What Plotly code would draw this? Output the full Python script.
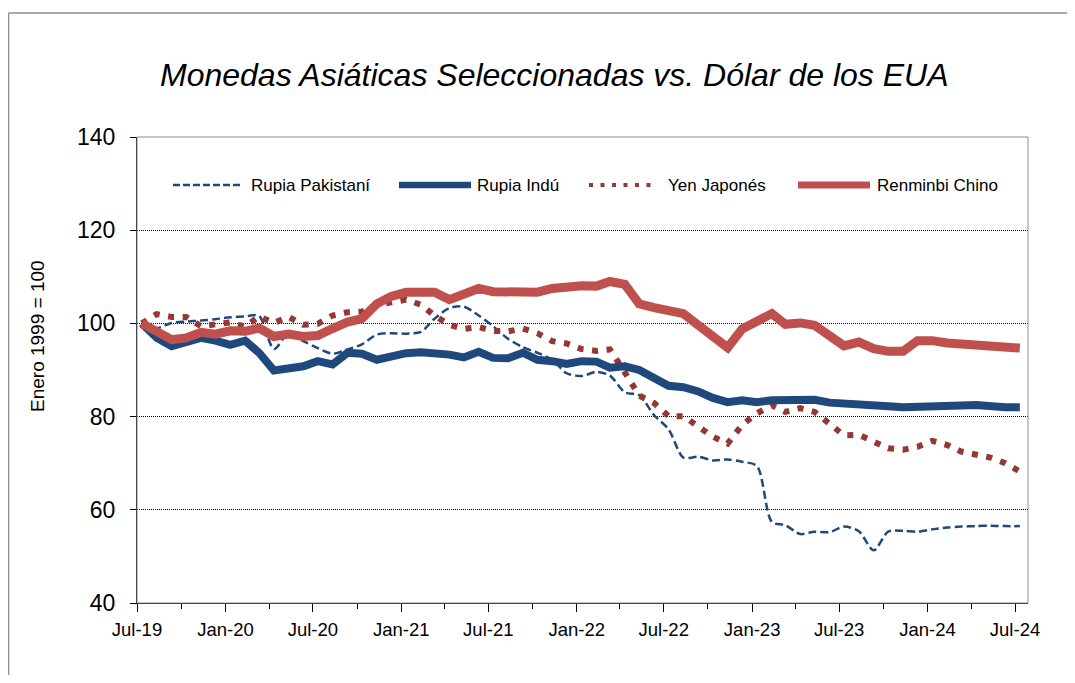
import pandas as pd
import plotly.graph_objects as go

# monthly index, Jul-19 .. Jul-24 (Enero 1999 = 100 rebased to Jul-19)
months = pd.date_range("2019-07-01", periods=61, freq="MS") + pd.Timedelta(days=10)

rupia_pakistani = [100, 99.0, 100.1, 100.4, 100.6, 100.9, 101.3, 101.5, 101.6, 94.5,
                   97.8, 96.2, 94.7, 93.5, 94.4, 95.5, 97.6, 97.9, 97.8, 98.2,
                   101.0, 103.3, 103.6, 101.7, 99.4, 96.7, 94.9, 93.7, 92.2, 89.3,
                   88.7, 89.6, 88.8, 85.2, 84.6, 80.3, 77.3, 71.2, 71.4, 70.6,
                   70.8, 70.3, 69.4, 57.4, 56.7, 54.8, 55.3, 55.2, 56.4, 55.4,
                   51.3, 55.3, 55.5, 55.3, 55.8, 56.2, 56.4, 56.5, 56.6, 56.5, 56.5]
rupia_indu = [100, 96.9, 95.1, 96.2, 96.9, 96.3, 95.4, 96.3, 93.7, 89.9,
              90.5, 90.8, 91.9, 91.2, 93.7, 93.5, 92.2, 92.9, 93.6, 93.8,
              93.7, 93.3, 92.7, 93.9, 92.6, 92.5, 93.7, 92.2, 91.9, 91.3,
              91.9, 91.8, 90.5, 90.8, 90.0, 88.5, 86.6, 86.3, 85.4, 84.0,
              83.1, 83.5, 83.1, 83.5, 83.6, 83.5, 83.6, 83.0, 82.9, 82.7,
              82.3, 82.2, 82.0, 82.0, 82.0, 82.2, 82.4, 82.5, 82.1, 82.0, 82.0]
yen_japones = [100, 102.0, 101.4, 101.4, 99.4, 99.7, 100.2, 99.3, 101.5, 100.1,
               101.4, 99.7, 99.9, 101.7, 102.4, 102.5, 103.9, 104.5, 105.1, 104.0,
               101.7, 99.7, 98.8, 99.2, 98.4, 98.3, 98.9, 97.9, 96.2, 95.7,
               94.5, 94.1, 94.4, 89.5, 84.5, 82.9, 80.1, 80.1, 77.8, 75.7,
               74.2, 78.2, 80.7, 82.4, 81.0, 81.8, 81.0, 78.5, 76.0, 76.1,
               74.8, 73.2, 72.9, 73.5, 74.8, 73.9, 72.5, 71.9, 71.2, 70.0, 68.2]
renminbi_chino = [100, 98.3, 96.5, 96.9, 98.1, 97.7, 98.4, 98.3, 99.0, 97.2,
                  97.7, 97.2, 97.4, 98.9, 100.3, 101.0, 104.2, 105.8, 106.7, 106.7,
                  106.7, 105.1, 106.4, 107.5, 106.8, 106.7, 106.8, 106.7, 107.5, 108.0,
                  108.1, 108.0, 109.0, 108.4, 104.2, 103.4, 102.9, 102.1, 99.6, 97.4,
                  94.8, 98.8, 100.3, 102.1, 99.8, 100.1, 99.6, 97.3, 95.2, 96.0,
                  94.6, 94.0, 94.0, 96.3, 96.3, 95.8, 95.6, 95.3, 95.0, 94.9, 94.7]

nombres = ["Rupia Pakistaní", "Rupia Indú", "Yen Japonés", "Renminbi Chino"]

# page body has an 8px margin, so the figure is shifted by that amount
OFF = 8
W, H = 1075 - 2 * OFF, 683 - 2 * OFF
L, T = 137 - OFF, 137 - OFF
R, B = W - (1028 - OFF), H - (603 - OFF)
PW, PH = W - L - R, H - T - B


def px(x):
    return (x - OFF - L) / PW


def py(y):
    return 1 - (y - OFF - T) / PH


AZUL = "#1F497D"
ROJO = "#C0504D"
GUINDA = "#953735"
FONT = "Liberation Sans, Arial, sans-serif"

fig = go.Figure()
fig.add_trace(go.Scatter(x=months, y=rupia_pakistani, mode="lines", name=nombres[0],
                         line=dict(color=AZUL, width=2.5, dash="8px,4px", shape="spline", smoothing=0.8)))
fig.add_trace(go.Scatter(x=months, y=yen_japones, mode="lines", name=nombres[2],
                         line=dict(color=GUINDA, width=6, dash="6px,8.6px")))
fig.add_trace(go.Scatter(x=months, y=rupia_indu, mode="lines", name=nombres[1],
                         line=dict(color=AZUL, width=8)))
fig.add_trace(go.Scatter(x=months, y=renminbi_chino, mode="lines", name=nombres[3],
                         line=dict(color=ROJO, width=9)))

shapes = [
    # plot-area box
    dict(type="rect", xref="paper", yref="paper", x0=0, x1=1, y0=0, y1=1,
         line=dict(color="#8c8c8c", width=1)),
    # outer chart frame
    dict(type="line", xref="paper", yref="paper", x0=px(8.5), x1=px(8.5), y0=py(13), y1=py(700),
         line=dict(color="#8c8c8c", width=1.5)),
    dict(type="line", xref="paper", yref="paper", x0=px(8.5), x1=px(1090), y0=py(13), y1=py(13),
         line=dict(color="#8c8c8c", width=1.5)),
]

# custom legend row
leg_y = 185
leg = [
    (173, 242, 249, AZUL, 2.5, "7px,3px"),
    (399, 471, 475, AZUL, 6.5, "solid"),
    (589, 657, 666, GUINDA, 4, "4px,7.5px"),
    (798, 870, 875, ROJO, 7, "solid"),
]
annotations = []
for (x0, x1, xt, col, w, d), nombre in zip(leg, nombres):
    shapes.append(dict(type="line", xref="paper", yref="paper", x0=px(x0), x1=px(x1),
                       y0=py(leg_y), y1=py(leg_y), line=dict(color=col, width=w, dash=d)))
    annotations.append(dict(text=nombre, xref="paper", yref="paper", x=px(xt), y=py(leg_y),
                            xanchor="left", yanchor="middle", showarrow=False,
                            font=dict(family=FONT, size=17, color="black")))

annotations.append(dict(text="Monedas Asiáticas Seleccionadas vs. Dólar de los EUA",
                        xref="paper", yref="paper", x=px(554), y=py(75), showarrow=False,
                        xanchor="center", yanchor="middle",
                        font=dict(family=FONT, size=32, color="black", style="italic")))
annotations.append(dict(text="Enero 1999 = 100", xref="paper", yref="paper", x=px(37), y=py(336),
                        textangle=-90, showarrow=False, xanchor="center", yanchor="middle",
                        font=dict(family=FONT, size=19, color="black")))

fig.update_layout(
    width=W, height=H,
    margin=dict(l=L, r=R, t=T, b=B),
    paper_bgcolor="white", plot_bgcolor="white",
    showlegend=False,
    shapes=shapes, annotations=annotations,
    font=dict(family=FONT, color="black"),
)
fig.update_xaxes(
    type="date", range=["2019-07-01", "2024-07-28"],
    tick0="2019-07-01", dtick="M6", tickformat="%b-%y",
    ticks="outside", ticklen=8, tickcolor="black", tickwidth=1,
    minor=dict(dtick="M3", ticks="outside", ticklen=5, tickcolor="black"),
    showline=True, linecolor="black", linewidth=1.3,
    showgrid=False, tickfont=dict(size=18.5), ticklabelstandoff=2,
)
fig.update_yaxes(
    range=[40, 140], dtick=20, ticks="outside", ticklen=6, tickcolor="black",
    showline=True, linecolor="black", linewidth=1.3,
    showgrid=True, gridcolor="black", gridwidth=1, griddash="1px,1px",
    zeroline=False, tickfont=dict(size=23), ticklabelstandoff=10,
)

fig.write_html("out.html")
